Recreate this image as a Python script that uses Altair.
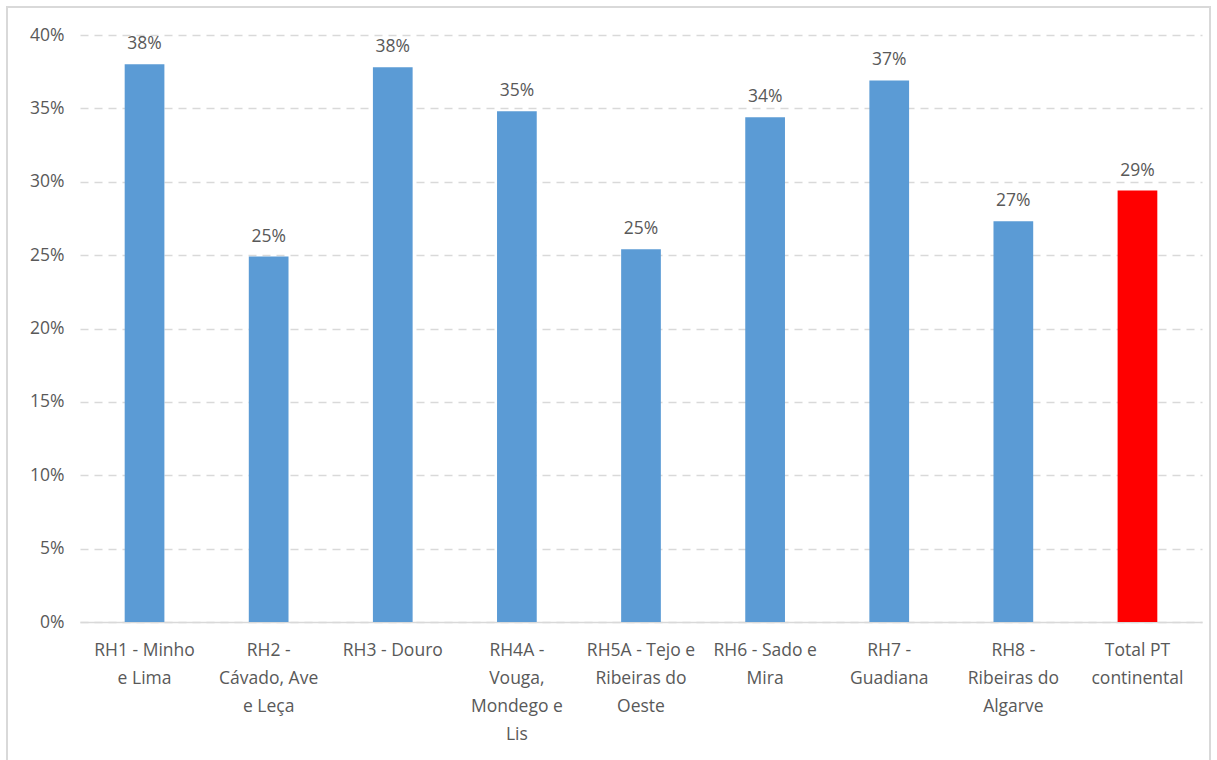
import altair as alt
import pandas as pd

label_lines = [
    ["RH1 - Minho", "e Lima"],
    ["RH2 -", "Cávado, Ave", "e Leça"],
    ["RH3 - Douro"],
    ["RH4A -", "Vouga,", "Mondego e", "Lis"],
    ["RH5A - Tejo e", "Ribeiras do", "Oeste"],
    ["RH6 - Sado e", "Mira"],
    ["RH7 -", "Guadiana"],
    ["RH8 -", "Ribeiras do", "Algarve"],
    ["Total PT", "continental"],
]
values = [0.380, 0.249, 0.378, 0.348, 0.254, 0.344, 0.369, 0.273, 0.294]
colors = ["#5B9BD5"] * 8 + ["#FF0000"]

categories = ["|".join(l) for l in label_lines]
df = pd.DataFrame({"cat": categories, "val": values, "color": colors})

FONT = "Open Sans"
GREY = "#595959"
FS = 17.5

x = alt.X("cat:N", sort=categories, title=None,
          scale=alt.Scale(paddingInner=0.68, paddingOuter=0.36),
          axis=alt.Axis(labelAngle=0, labelExpr="split(datum.label, '|')",
                        labelFont=FONT, labelFontSize=FS, labelColor=GREY,
                        labelLineHeight=28, labelPadding=19, ticks=False,
                        domainColor="#D9D9D9", domainWidth=1.5, grid=False,
                        labelBaseline="top"))
y = alt.Y("val:Q", title=None,
          scale=alt.Scale(domain=[0, 0.4], nice=False),
          axis=alt.Axis(format=".0%", values=[0, 0.05, 0.1, 0.15, 0.2, 0.25, 0.3, 0.35, 0.4],
                        labelFont=FONT, labelFontSize=FS, labelColor=GREY,
                        labelPadding=16, ticks=False, domain=False,
                        gridColor="#D9D9D9", gridDash=[8, 6], gridWidth=1.5))

bars = alt.Chart(df).mark_bar().encode(
    x=x, y=y, color=alt.Color("color:N", scale=None)
)
text = alt.Chart(df).mark_text(font=FONT, fontSize=FS, color=GREY, baseline="bottom", dy=-11).encode(
    x=alt.X("cat:N", sort=categories), y="val:Q", text=alt.Text("val:Q", format=".0%")
)
border = alt.Chart(df).mark_rect(fill=None, stroke="#D9D9D9", strokeWidth=1.5).encode(
    x=alt.value(-73), x2=alt.value(1130), y=alt.value(-28), y2=alt.value(740)
)

chart = alt.layer(border, bars, text).properties(
    width=1122, height=587,
    autosize=alt.AutoSizeParams(type="none"),
    padding={"left": 80, "top": 35, "right": 15, "bottom": 138},
    background="white",
).configure_view(stroke=None)

chart.save("out.html", embed_options={"renderer": "svg", "actions": False})
